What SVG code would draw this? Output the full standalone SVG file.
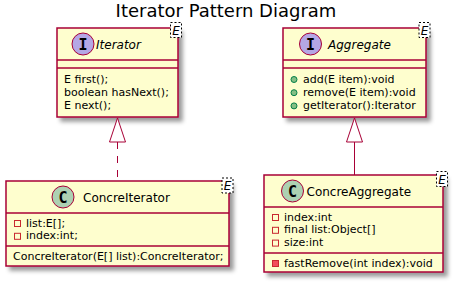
<svg xmlns="http://www.w3.org/2000/svg" width="457" height="284" viewBox="0 0 457 284">
  <defs>
    <filter id="shadow" x="-10%" y="-10%" width="130%" height="130%">
      <feGaussianBlur result="blurOut" stdDeviation="2"/>
      <feColorMatrix type="matrix" in="blurOut" result="blurOut2" values="0 0 0 0 0 0 0 0 0 0 0 0 0 0 0 0 0 0 .4 0"/>
      <feOffset result="blurOut3" in="blurOut2" dx="4" dy="4"/>
      <feBlend in="SourceGraphic" in2="blurOut3" mode="normal"/>
    </filter>
  </defs>
  <style>
    .box { fill: #FEFECE; stroke: #A80036; stroke-width: 1.5; filter: url(#shadow); }
    .sep { stroke: #A80036; stroke-width: 1.5; }
    .spotI { fill: #B4A7E5; stroke: #A80036; stroke-width: 1; }
    .spotC { fill: #ADD1B2; stroke: #A80036; stroke-width: 1; }
    .spotTxt { font-family: "DejaVu Sans Mono", monospace; font-weight: bold; font-size: 15px; text-anchor: middle; fill: #000; }
    .name { font-family: "DejaVu Sans", sans-serif; font-size: 12px; fill: #000; }
    .abstract { font-style: italic; }
    .member { font-family: "DejaVu Sans", sans-serif; font-size: 11px; fill: #000; }
    .tpl { fill: #FFFFFF; stroke: #000; stroke-width: 1; stroke-dasharray: 2,2; }
    .tplTxt { font-family: "DejaVu Sans", sans-serif; font-size: 12px; font-style: italic; text-anchor: middle; fill: #000; }
    .priv { fill: none; stroke: #C82930; stroke-width: 1; }
    .privM { fill: #F24D5C; stroke: #C82930; stroke-width: 1; }
    .pub { fill: #84BE84; stroke: #038048; stroke-width: 1; }
    .edge { fill: none; stroke: #A80036; stroke-width: 1; }
    .head { fill: #FFFFFF; stroke: #A80036; stroke-width: 1; }
    .title { font-family: "DejaVu Sans", sans-serif; font-size: 18px; text-anchor: middle; fill: #000; }
  </style>

  <text class="title" x="226" y="17">Iterator Pattern Diagram</text>

  <!-- interface Iterator<E> -->
  <g id="Iterator">
    <rect class="box" x="57" y="28" width="121" height="89"/>
    <circle class="spotI" cx="83" cy="44" r="11"/>
    <text class="spotTxt" x="83" y="49.5">I</text>
    <text class="name abstract" x="96" y="48.5">Iterator</text>
    <line class="sep" x1="57" y1="60" x2="178" y2="60"/>
    <line class="sep" x1="57" y1="68" x2="178" y2="68"/>
    <text class="member" x="64" y="83">E first();</text>
    <text class="member" x="64" y="96.2">boolean hasNext();</text>
    <text class="member" x="64" y="109.4">E next();</text>
    <rect class="tpl" x="170.5" y="22.5" width="11" height="15"/>
    <text class="tplTxt" x="176" y="34.5">E</text>
  </g>

  <!-- interface Aggregate<E> -->
  <g id="Aggregate">
    <rect class="box" x="283" y="28" width="143" height="89"/>
    <circle class="spotI" cx="310.5" cy="44" r="11"/>
    <text class="spotTxt" x="310.5" y="49.5">I</text>
    <text class="name abstract" x="328" y="48.5">Aggregate</text>
    <line class="sep" x1="283" y1="60" x2="426" y2="60"/>
    <line class="sep" x1="283" y1="68" x2="426" y2="68"/>
    <circle class="pub" cx="294" cy="79.5" r="3"/>
    <text class="member" x="303" y="83">add(E item):void</text>
    <circle class="pub" cx="294" cy="92.7" r="3"/>
    <text class="member" x="303" y="96.2">remove(E item):void</text>
    <circle class="pub" cx="294" cy="105.9" r="3"/>
    <text class="member" x="303" y="109.4">getIterator():Iterator</text>
    <rect class="tpl" x="419" y="22.5" width="11" height="15"/>
    <text class="tplTxt" x="424.5" y="34.5">E</text>
  </g>

  <!-- class ConcreIterator<E> -->
  <g id="ConcreIterator">
    <rect class="box" x="6" y="181" width="223" height="85"/>
    <circle class="spotC" cx="63" cy="197" r="11"/>
    <text class="spotTxt" x="63" y="202.5">C</text>
    <text class="name" x="83" y="201.5">ConcreIterator</text>
    <line class="sep" x1="6" y1="213" x2="229" y2="213"/>
    <line class="sep" x1="6" y1="246" x2="229" y2="246"/>
    <rect class="priv" x="14.5" y="220.5" width="6" height="6"/>
    <text class="member" x="26" y="226.5">list:E[];</text>
    <rect class="priv" x="14.5" y="233.3" width="6" height="6"/>
    <text class="member" x="26" y="239.3">index:int;</text>
    <text class="member" x="13" y="259.5">ConcreIterator(E[] list):ConcreIterator;</text>
    <rect class="tpl" x="222" y="178" width="11" height="15"/>
    <text class="tplTxt" x="227.5" y="190">E</text>
  </g>

  <!-- class ConcreAggregate<E> -->
  <g id="ConcreAggregate">
    <rect class="box" x="264" y="175" width="179" height="97"/>
    <circle class="spotC" cx="292.5" cy="191" r="11"/>
    <text class="spotTxt" x="292.5" y="196.5">C</text>
    <text class="name" x="306.5" y="195.5">ConcreAggregate</text>
    <line class="sep" x1="264" y1="207" x2="443" y2="207"/>
    <line class="sep" x1="264" y1="253" x2="443" y2="253"/>
    <rect class="priv" x="272.5" y="214.5" width="6" height="6"/>
    <text class="member" x="284" y="220.5">index:int</text>
    <rect class="priv" x="272.5" y="227.3" width="6" height="6"/>
    <text class="member" x="284" y="233.3">final list:Object[]</text>
    <rect class="priv" x="272.5" y="240.1" width="6" height="6"/>
    <text class="member" x="284" y="246.1">size:int</text>
    <rect class="privM" x="272.5" y="260.5" width="6" height="6"/>
    <text class="member" x="284" y="266.5">fastRemove(int index):void</text>
    <rect class="tpl" x="436.5" y="171.5" width="11" height="15"/>
    <text class="tplTxt" x="442" y="183.5">E</text>
  </g>

  <!-- realization / generalization connectors -->
  <g id="connectors">
    <path class="edge" d="M117.5,142 L117.5,181" stroke-dasharray="7,7"/>
    <polygon class="head" points="117.5,118 109.5,142 125.5,142"/>
    <path class="edge" d="M354.5,142 L354.5,175"/>
    <polygon class="head" points="354.5,118 346.5,142 362.5,142"/>
  </g>
</svg>
